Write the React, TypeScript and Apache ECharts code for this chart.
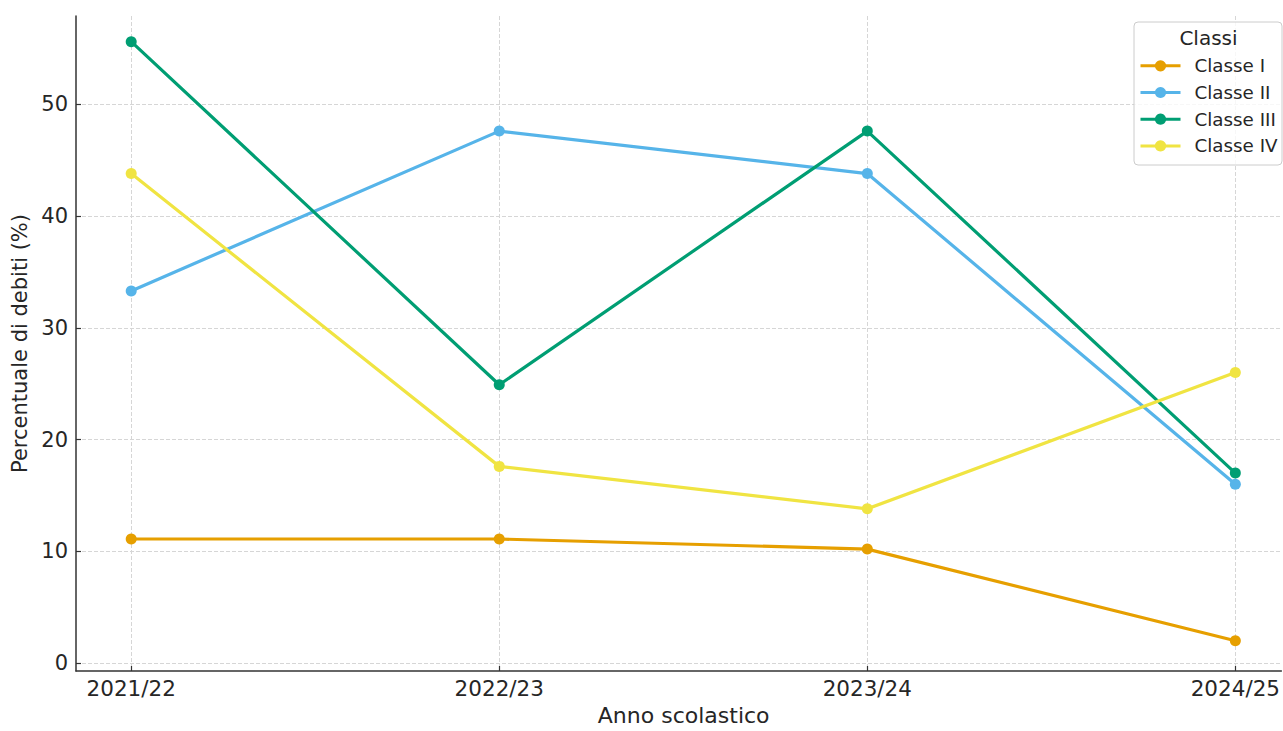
import React, { useEffect, useRef } from "react";
import * as echarts from "echarts";

const categories = ["2021/22", "2022/23", "2023/24", "2024/25"];
const seriesNames = ["Classe I", "Classe II", "Classe III", "Classe IV"];
const classeI = [11.1, 11.1, 10.2, 2.0];
const classeII = [33.3, 47.6, 43.8, 16.0];
const classeIII = [55.6, 24.9, 47.6, 17.0];
const classeIV = [43.8, 17.6, 13.8, 26.0];
const yTicks = [0, 10, 20, 30, 40, 50];
const colors = ["#E69F00", "#56B4E9", "#009E73", "#F0E442"];

const FONT = "DejaVu Sans";
const TXT = "#262626";

export default function App() {
  const ref = useRef<HTMLDivElement>(null);
  useEffect(() => {
    if (!ref.current) return;
    const chart = echarts.init(ref.current, undefined, { renderer: "svg" });
    const all = [classeI, classeII, classeIII, classeIV];
    const xIdx = categories.map((_, i) => i);
    chart.setOption({
      animation: false,
      backgroundColor: "#ffffff",
      grid: { left: 76, right: 0, top: 16, bottom: 57, containLabel: false },
      xAxis: {
        type: "value",
        min: -0.15,
        max: 3.125,
        name: "Anno scolastico",
        nameLocation: "middle",
        nameGap: 33,
        nameTextStyle: { fontFamily: FONT, fontSize: 22, color: TXT, padding: [0, 0, 0, 10] },
        axisLine: { show: true, onZero: false, lineStyle: { color: "#333333", width: 1.5 } },
        axisTick: { show: true, inside: true, length: 5, customValues: xIdx, lineStyle: { color: "#333333", width: 1.2 } },
        axisLabel: {
          customValues: xIdx,
          formatter: (v: number) => categories[Math.round(v)] ?? "",
          fontFamily: FONT,
          fontSize: 21.5,
          color: TXT,
          margin: 6,
        },
        splitLine: { show: true, lineStyle: { color: "#d6d6d6", width: 1, type: [4, 2] } },
      },
      yAxis: {
        type: "value",
        min: -0.71,
        max: 57.9,
        name: "Percentuale di debiti (%)",
        nameLocation: "middle",
        nameGap: 38,
        nameRotate: 90,
        nameTextStyle: { fontFamily: FONT, fontSize: 21, color: TXT },
        axisLine: { show: true, onZero: false, lineStyle: { color: "#333333", width: 1.5 } },
        axisTick: { show: true, inside: true, length: 5, customValues: yTicks, lineStyle: { color: "#333333", width: 1.2 } },
        axisLabel: {
          customValues: yTicks,
          fontFamily: FONT,
          fontSize: 21,
          color: TXT,
          margin: 8,
        },
        splitLine: { show: true, lineStyle: { color: "#d6d6d6", width: 1, type: [4, 2] } },
      },
      legend: {
        orient: "vertical",
        left: 1139,
        top: 56.8,
        padding: 0,
        itemWidth: 40,
        itemHeight: 14,
        itemGap: 8.7,
        data: seriesNames,
        lineStyle: { width: 3 },
        textStyle: { fontFamily: FONT, fontSize: 18.3, color: TXT, padding: [0, 0, 0, 9] },
        z: 10,
      },
      graphic: [
        {
          type: "rect",
          z: 5,
          shape: { x: 1134, y: 22, width: 148, height: 143, r: 4 },
          style: { fill: "rgba(255,255,255,0.8)", stroke: "#cccccc", lineWidth: 1 },
        },
        {
          type: "text",
          z: 6,
          x: 1208.5,
          y: 37.5,
          style: { text: "Classi", fontFamily: FONT, fontSize: 20, fill: TXT, align: "center", verticalAlign: "middle" },
        },
      ],
      series: all.map((vals, i) => ({
        name: seriesNames[i],
        type: "line",
        data: vals.map((v, j) => [j, v]),
        symbol: "circle",
        symbolSize: 11,
        lineStyle: { width: 3.2, color: colors[i] },
        itemStyle: { color: colors[i] },
        z: 2 + i,
      })),
    });
    return () => chart.dispose();
  }, []);
  return <div ref={ref} style={{ position: "fixed", left: 0, top: 0, width: 1283, height: 731 }} />;
}
